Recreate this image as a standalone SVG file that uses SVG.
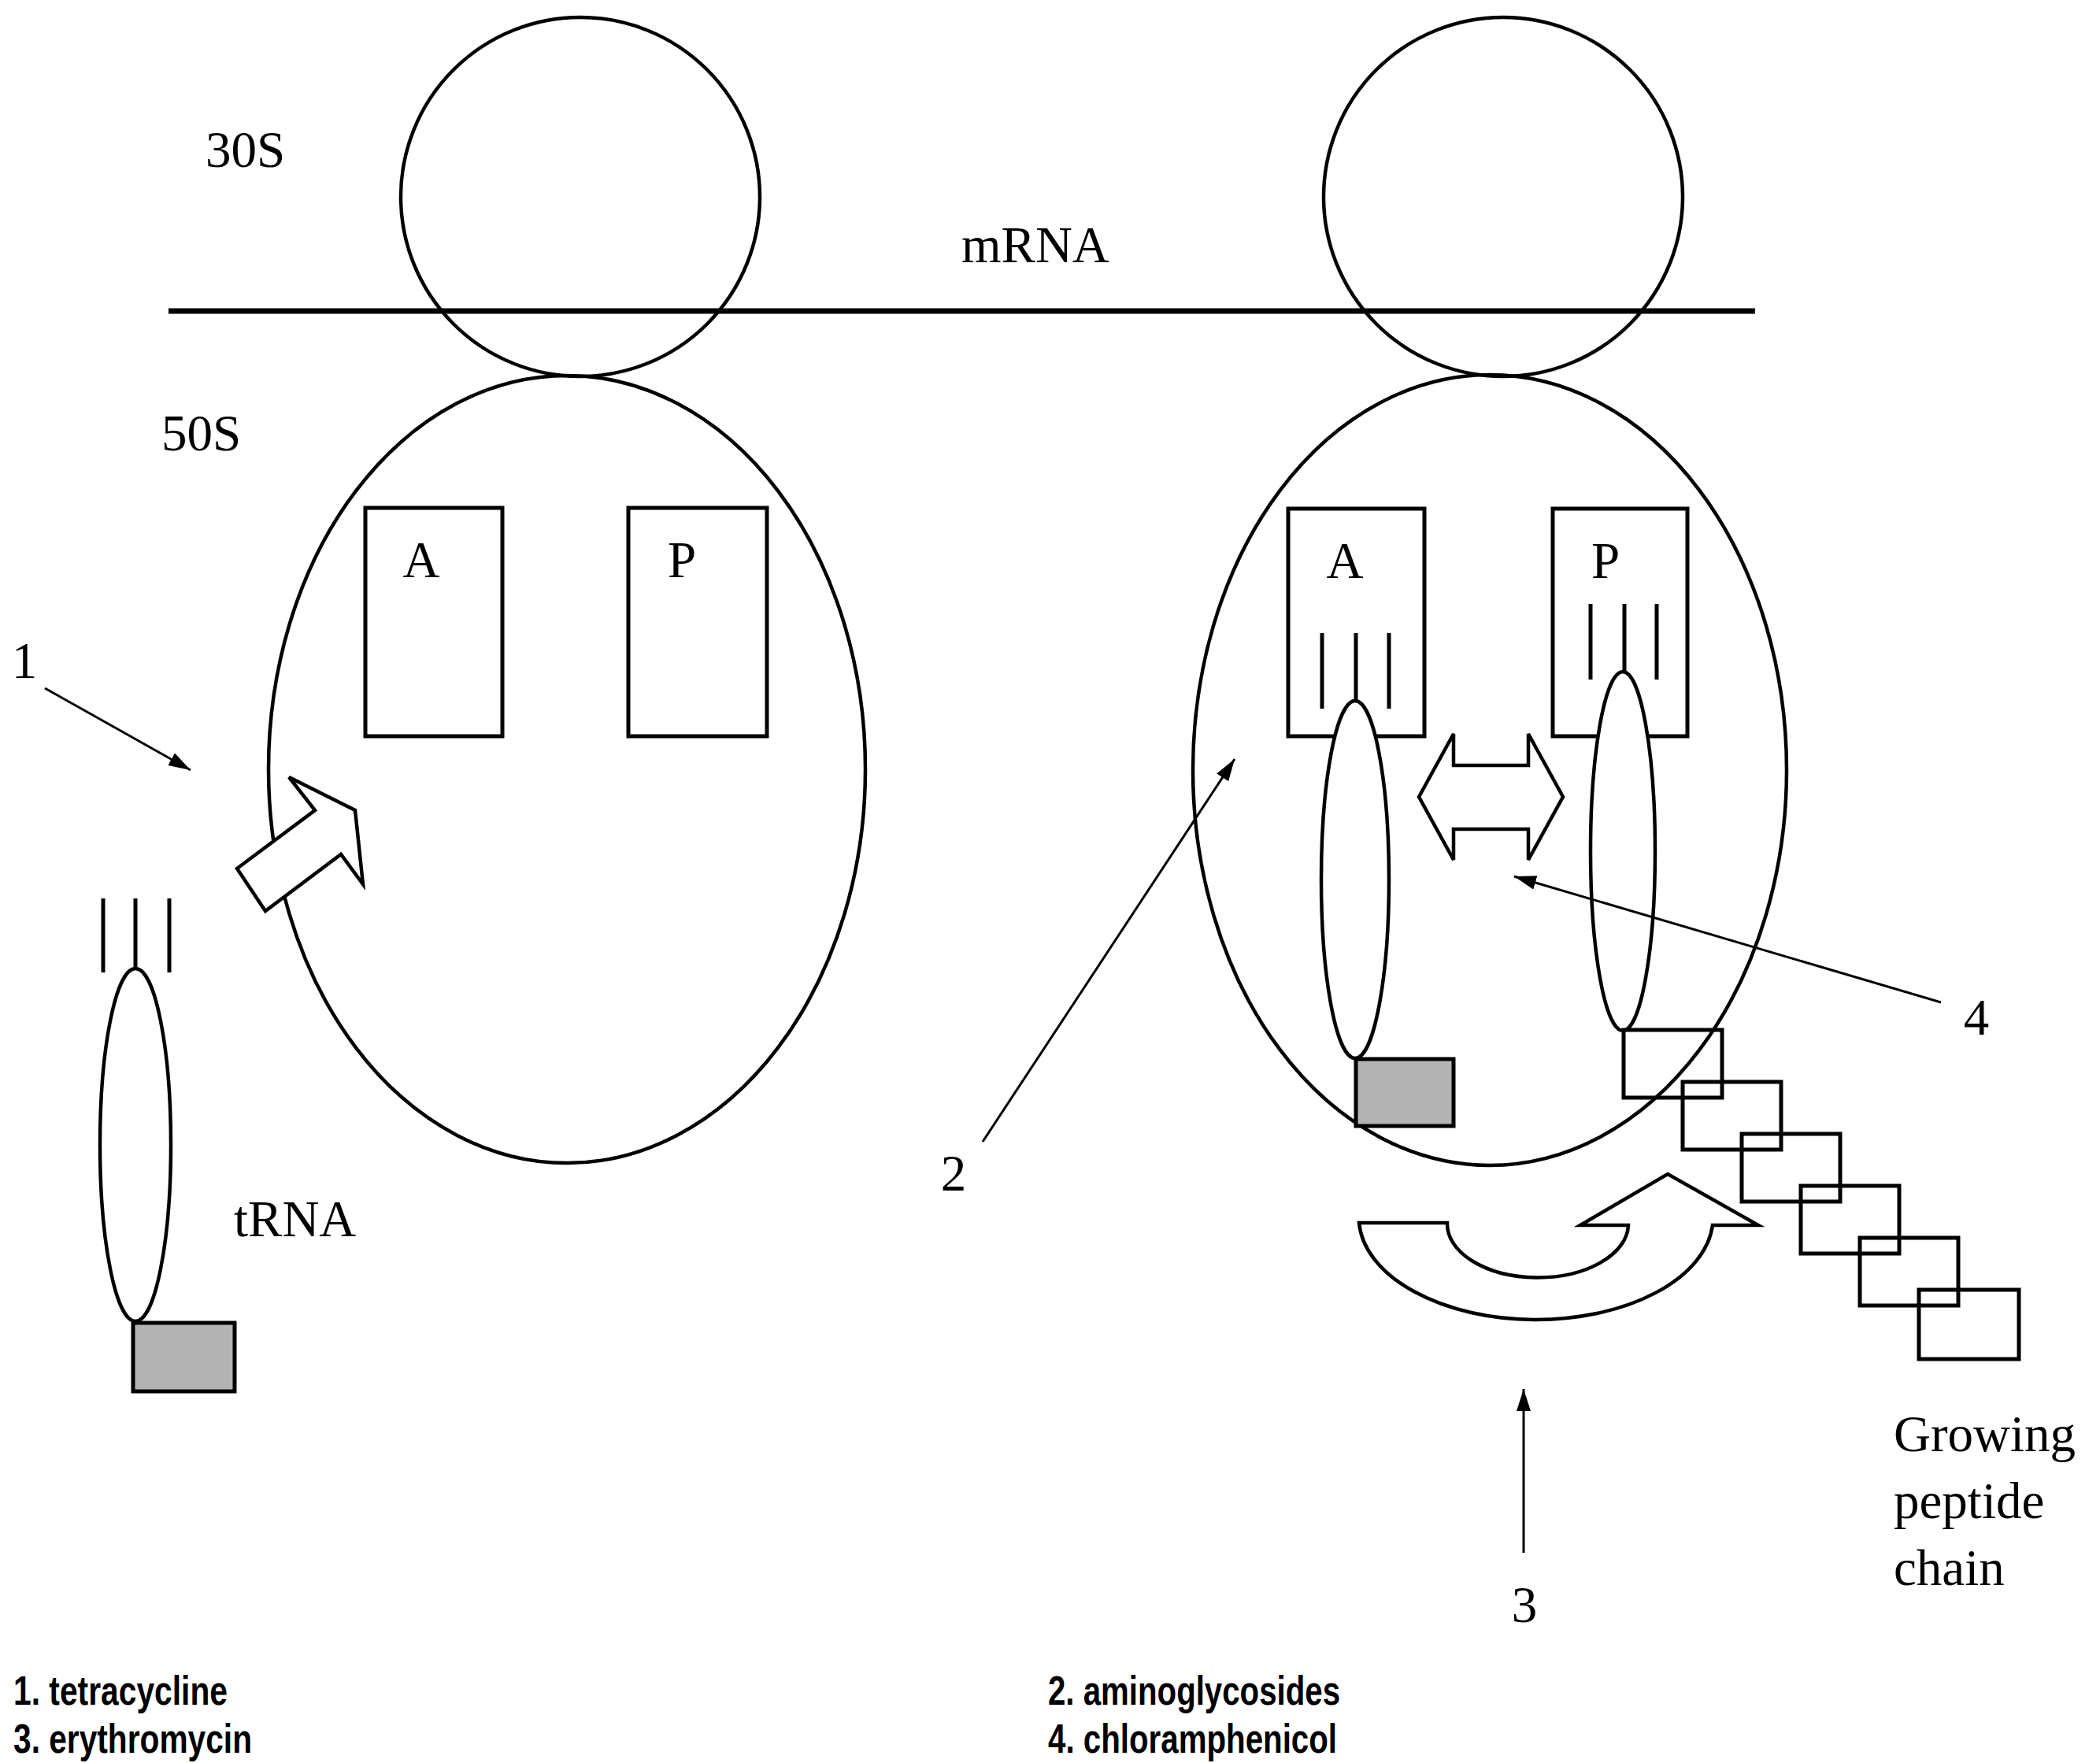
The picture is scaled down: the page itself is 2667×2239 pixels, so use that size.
<svg xmlns="http://www.w3.org/2000/svg" width="2667" height="2239" viewBox="0 0 2667 2239">
<style>
.o{fill:none;stroke:#000;stroke-width:4.5}
.w{fill:#fff;stroke:#000;stroke-width:4.5}
.box{fill:none;stroke:#000;stroke-width:5}
.g{fill:#b3b3b3;stroke:#000;stroke-width:5}
.cod{stroke:#000;stroke-width:5}
.lbl{font-family:"Liberation Serif","Times New Roman",serif;font-size:65px;fill:#000}
.leg{font-family:"Liberation Sans",Arial,sans-serif;font-size:52px;font-weight:bold;fill:#000}
.con{stroke:#000;stroke-width:3;fill:none}
</style>
<defs>
<marker id="ah" markerUnits="userSpaceOnUse" markerWidth="32" markerHeight="22" refX="28" refY="9" orient="auto">
<path d="M0,0 L28,9 L0,18 Z" fill="#000"/>
</marker>
</defs>
<rect width="2667" height="2239" fill="#fff"/>

<g id="mrna">
<line x1="214" y1="395" x2="2229" y2="395" stroke="#000" stroke-width="7"/>
<text class="lbl" x="1221" y="333">mRNA</text>
</g>

<g id="ribosome-left">
<circle class="o" cx="737" cy="250" r="228"/>
<ellipse class="o" cx="720" cy="977" rx="379" ry="500"/>
<text class="lbl" x="261" y="212">30S</text>
<text class="lbl" x="205" y="572">50S</text>
</g>

<g id="site-A-left">
<rect class="box" x="464" y="645" width="174" height="290"/>
<text class="lbl" x="535" y="733" text-anchor="middle">A</text>
</g>
<g id="site-P-left">
<rect class="box" x="798" y="645" width="176" height="290"/>
<text class="lbl" x="866" y="733" text-anchor="middle">P</text>
</g>

<g id="ribosome-right">
<circle class="o" cx="1909" cy="250" r="228"/>
<ellipse class="o" cx="1892" cy="978" rx="377" ry="502"/>
</g>

<g id="site-A-right">
<rect class="box" x="1636" y="646" width="173" height="289"/>
<text class="lbl" x="1708" y="734" text-anchor="middle">A</text>
<line class="cod" x1="1679" y1="804" x2="1679" y2="900"/>
<line class="cod" x1="1722" y1="804" x2="1722" y2="892"/>
<line class="cod" x1="1764" y1="804" x2="1764" y2="900"/>
</g>
<g id="site-P-right">
<rect class="box" x="1972" y="646" width="171" height="289"/>
<text class="lbl" x="2039" y="734" text-anchor="middle">P</text>
<line class="cod" x1="2020" y1="767" x2="2020" y2="863"/>
<line class="cod" x1="2063" y1="767" x2="2063" y2="855"/>
<line class="cod" x1="2104" y1="767" x2="2104" y2="863"/>
</g>

<g id="trna-free">
<line class="cod" x1="131" y1="1141" x2="131" y2="1235"/>
<line class="cod" x1="172" y1="1141" x2="172" y2="1231"/>
<line class="cod" x1="215" y1="1141" x2="215" y2="1235"/>
<ellipse class="w" cx="172" cy="1454" rx="45" ry="224"/>
<rect class="g" x="169" y="1680" width="129" height="87"/>
<text class="lbl" x="297" y="1570">tRNA</text>
</g>

<g id="trna-A">
<ellipse class="w" cx="1721" cy="1117" rx="43" ry="227"/>
<rect class="g" x="1722" y="1345" width="124" height="85"/>
</g>
<g id="trna-P">
<ellipse class="w" cx="2061" cy="1081" rx="41" ry="228"/>
</g>

<g id="block-arrow-entry">
<polygon class="w" points="301,1103 400,1029 367,987 451,1029 461,1123 433,1085 337,1157"/>
</g>

<g id="translocation-arrow">
<polygon class="w" points="1802,1012 1846,932 1846,972 1941,972 1941,932 1985,1012 1941,1092 1941,1053 1846,1053 1846,1092"/>
</g>

<g id="peptide-chain">
<rect class="box" x="2062" y="1308" width="125" height="86"/>
<rect class="box" x="2137" y="1374" width="125" height="86"/>
<rect class="box" x="2212" y="1440" width="125" height="86"/>
<rect class="box" x="2287" y="1506" width="125" height="86"/>
<rect class="box" x="2362" y="1572" width="125" height="86"/>
<rect class="box" x="2437" y="1638" width="127" height="88"/>
<text class="lbl" x="2405" y="1843">Growing</text>
<text class="lbl" x="2405" y="1928">peptide</text>
<text class="lbl" x="2405" y="2013">chain</text>
</g>

<g id="exit-arrow">
<path class="w" d="M1726,1553 L1838,1553 A115,68 0 0 0 2068,1556 L2007,1556 L2118,1491 L2233,1556 L2175,1556 A225,130 0 0 1 1726,1553 Z"/>
</g>

<g id="connectors">
<line class="con" x1="57" y1="874" x2="242" y2="978" marker-end="url(#ah)"/>
<line class="con" x1="1248" y1="1450" x2="1568" y2="964" marker-end="url(#ah)"/>
<line class="con" x1="1935" y1="1972" x2="1935" y2="1764" marker-end="url(#ah)"/>
<line class="con" x1="2465" y1="1273" x2="1923" y2="1113" marker-end="url(#ah)"/>
</g>

<g id="labels">
<text class="lbl" x="31" y="861" text-anchor="middle">1</text>
<text class="lbl" x="1211" y="1512" text-anchor="middle">2</text>
<text class="lbl" x="1936" y="2060" text-anchor="middle">3</text>
<text class="lbl" x="2510" y="1314" text-anchor="middle">4</text>
</g>

<g id="legend">
<text class="leg" x="17" y="2165" textLength="272" lengthAdjust="spacingAndGlyphs">1. tetracycline</text>
<text class="leg" x="17" y="2226" textLength="303" lengthAdjust="spacingAndGlyphs">3. erythromycin</text>
<text class="leg" x="1331" y="2165" textLength="371" lengthAdjust="spacingAndGlyphs">2. aminoglycosides</text>
<text class="leg" x="1331" y="2226" textLength="367" lengthAdjust="spacingAndGlyphs">4. chloramphenicol</text>
</g>
</svg>
